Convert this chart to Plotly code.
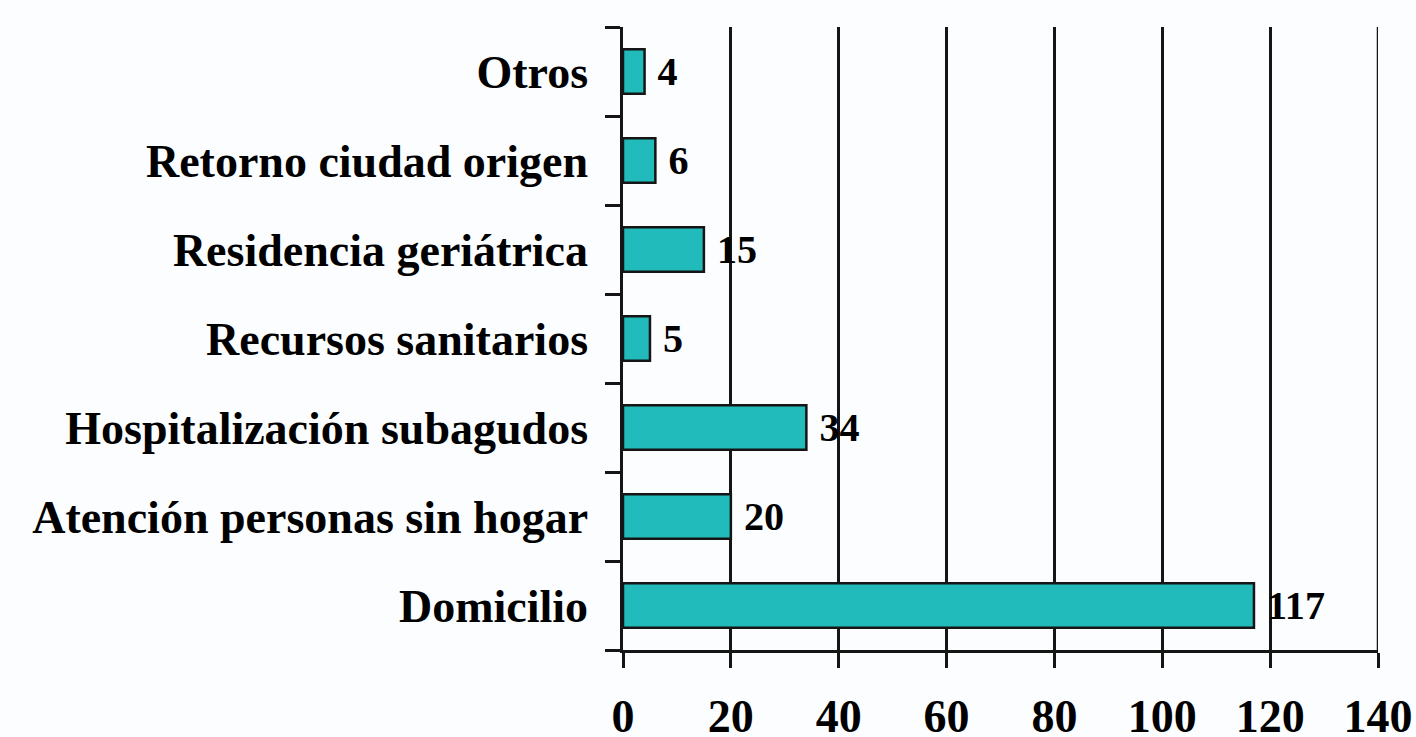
import plotly.graph_objects as go

categories = ["Domicilio", "Atención personas sin hogar", "Hospitalización subagudos",
              "Recursos sanitarios", "Residencia geriátrica", "Retorno ciudad origen", "Otros"]
values = [117, 20, 34, 5, 15, 6, 4]
x_ticks = [0, 20, 40, 60, 80, 100, 120, 140]

FONT = "Liberation Serif"
INK = "#151515"
FS = 46

fig = go.Figure(go.Bar(
    y=categories, x=values, orientation="h",
    marker=dict(color="#22BBBB", line=dict(color=INK, width=2.5)),
    width=0.5,
    texttemplate=" <b>%{x}</b>", textposition="outside",
    textfont=dict(family=FONT, size=FS, color="#000000"),
    cliponaxis=False,
))

fig.update_layout(
    width=1416, height=737,
    margin=dict(l=623, r=38, t=27, b=87),
    paper_bgcolor="#FBFDFF", plot_bgcolor="#FBFDFF",
    showlegend=False,
    font=dict(family=FONT, size=FS, color="#000000"),
)
fig.update_xaxes(
    range=[0, 140], tickmode="array", tickvals=x_ticks,
    ticktext=[f"<b>{t}</b>" for t in x_ticks],
    showgrid=True, gridcolor=INK, gridwidth=2.5, zeroline=False,
    showline=True, linecolor=INK, linewidth=2.5,
    ticks="outside", ticklen=15, tickwidth=2.5, tickcolor=INK,
    tickfont=dict(family=FONT, size=FS, color="#000000"),
    ticklabelstandoff=9, automargin=False,
)
fig.update_yaxes(
    categoryorder="array", categoryarray=categories,
    tickmode="array", tickvals=categories, ticktext=[f"<b>{c}</b>" for c in categories],
    showline=True, linecolor=INK, linewidth=2.5,
    ticks="outside", ticklen=15, tickwidth=2.5, tickcolor=INK, tickson="boundaries",
    showgrid=False, zeroline=False,
    tickfont=dict(family=FONT, size=FS, color="#000000"),
    ticklabelstandoff=23, automargin=False,
)
# right-most grid line at 140 (plotly skips the gridline at the range edge)
fig.add_shape(type="line", xref="x", yref="paper", x0=x_ticks[-1], x1=x_ticks[-1], y0=0, y1=1,
              line=dict(color=INK, width=2.5))

fig.write_html("out.html", config={"displayModeBar": False},
               post_script="document.body.style.margin='0';document.body.style.padding='0';"
                           "document.body.style.background='#FBFDFF';"
                           "document.documentElement.style.overflow='hidden';")
